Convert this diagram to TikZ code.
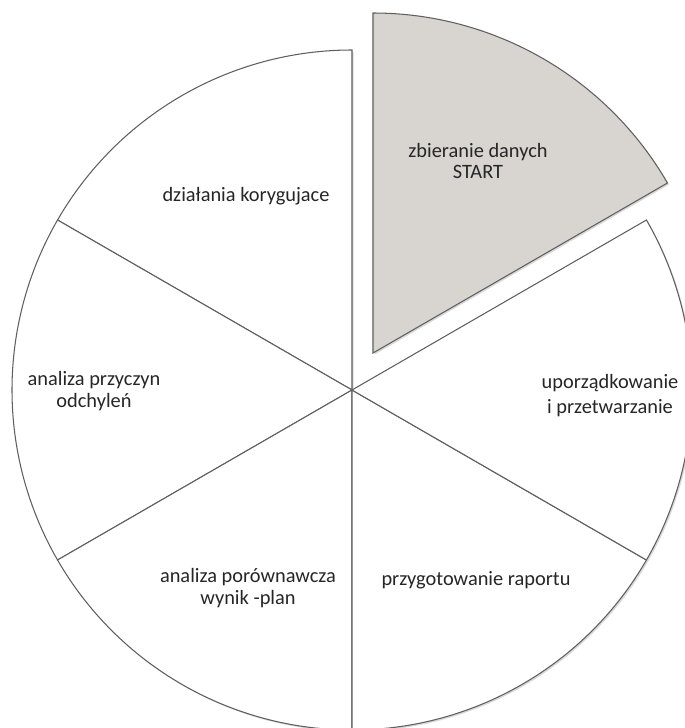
\documentclass[tikz,border=0pt]{standalone}
\usepackage{fontspec}
\setmainfont{Carlito}
\usetikzlibrary{shadows}

\definecolor{granite}{RGB}{216,212,207}
\definecolor{edgegray}{RGB}{95,95,95}

\tikzset{
  slice/.style={draw=edgegray, line width=0.6pt, fill=white,
    drop shadow={shadow xshift=0.9pt, shadow yshift=-0.9pt, opacity=0.3, fill=gray}},
  startslice/.style={slice, fill=granite},
  label/.style={align=center, text=black!85, font=\fontsize{11.6}{12.2}\selectfont}
}

\begin{document}
\begin{tikzpicture}[x=0.02cm, y=0.02cm]
        \useasboundingbox (-352,-338) rectangle (333,390);
        \clip (-352,-338) rectangle (333,390);
        % pie slices
        \draw[slice] (0,0) -- (90:340) arc (90:150:340) -- cycle;
        \draw[slice] (0,0) -- (150:340) arc (150:210:340) -- cycle;
        \draw[slice] (0,0) -- (210:340) arc (210:270:340) -- cycle;
        \draw[slice] (0,0) -- (270:340) arc (270:330:340) -- cycle;
        \draw[slice] (0,0) -- (330:340) arc (330:390:340) -- cycle;
        \draw[startslice] (21,37) -- ++(90:340) arc (90:30:340) -- cycle;
        % labels
        \node[label] (zbieranie) at (126,229) {zbieranie danych\\START};
        \node[label] (uporzadkowanie) at (258,-6) {uporządkowanie\\[2pt]i przetwarzanie};
        \node[label] (raport) at (124,-190) {przygotowanie raportu};
        \node[label] (porownanie) at (-104,-198) {analiza porównawcza\\wynik -plan};
        \node[label] (przyczyny) at (-258,-1) {analiza przyczyn\\odchyleń};
        \node[label] (korygujace) at (-106,194) {działania korygujace};
    \end{tikzpicture}
\end{document}
